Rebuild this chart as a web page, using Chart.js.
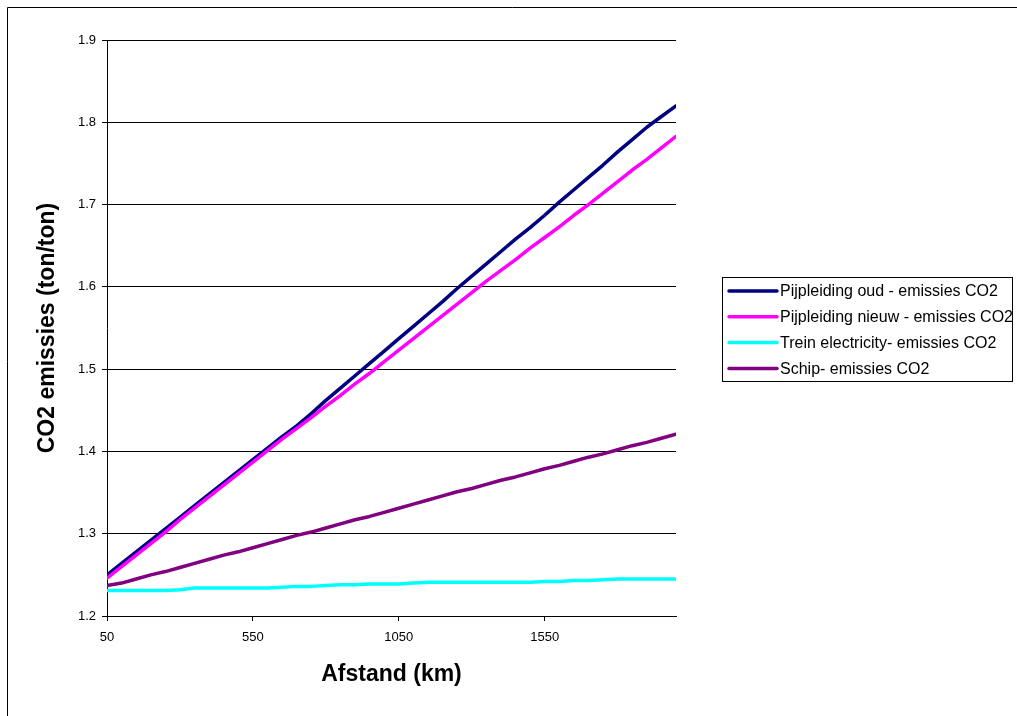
<!DOCTYPE html>
<html>
<head>
<meta charset="utf-8">
<title>CO2 emissies per afstand</title>
<script src="https://cdn.jsdelivr.net/npm/chart.js@4.4.1/dist/chart.umd.min.js"></script>
<style>
  html, body { margin: 0; padding: 0; background: #fff; }
  #wrap { width: 1017px; height: 716px; position: relative; }
</style>
</head>
<body>
<div id="wrap"><canvas id="c" width="1017" height="716"></canvas></div>
<script>
// Afstand in km
const distances = [50, 100, 150, 200, 250, 300, 350, 400, 450, 500,
  550, 600, 650, 700, 750, 800, 850, 900, 950, 1000,
  1050, 1100, 1150, 1200, 1250, 1300, 1350, 1400, 1450, 1500,
  1550, 1600, 1650, 1700, 1750, 1800, 1850, 1900, 1950, 2000];

const xTickLabels = [50, 550, 1050, 1550];
const yTicks = [1.2, 1.3, 1.4, 1.5, 1.6, 1.7, 1.8, 1.9];

const seriesNames = [
  'Pijpleiding oud - emissies CO2',
  'Pijpleiding nieuw - emissies CO2',
  'Trein electricity- emissies CO2',
  'Schip- emissies CO2'
];

// CO2 emissies (ton/ton)
const pijpOud = [1.250, 1.264, 1.278, 1.292, 1.306, 1.320, 1.334, 1.348, 1.362, 1.376,
  1.390, 1.404, 1.418, 1.431, 1.446, 1.462, 1.477, 1.492, 1.507, 1.522,
  1.537, 1.552, 1.567, 1.582, 1.598, 1.613, 1.628, 1.643, 1.658, 1.672,
  1.687, 1.703, 1.718, 1.733, 1.748, 1.764, 1.779, 1.794, 1.807, 1.820];

const pijpNieuw = [1.246, 1.260, 1.274, 1.288, 1.302, 1.317, 1.331, 1.345, 1.359, 1.373,
  1.387, 1.401, 1.415, 1.428, 1.441, 1.455, 1.468, 1.482, 1.495, 1.509,
  1.523, 1.537, 1.551, 1.565, 1.579, 1.593, 1.607, 1.620, 1.633, 1.647,
  1.660, 1.673, 1.687, 1.700, 1.714, 1.728, 1.742, 1.755, 1.769, 1.783];

const treinElec = [1.231, 1.231, 1.231, 1.231, 1.231, 1.232, 1.234, 1.234, 1.234, 1.234,
  1.234, 1.234, 1.235, 1.236, 1.236, 1.237, 1.238, 1.238, 1.239, 1.239,
  1.239, 1.240, 1.241, 1.241, 1.241, 1.241, 1.241, 1.241, 1.241, 1.241,
  1.242, 1.242, 1.243, 1.243, 1.244, 1.245, 1.245, 1.245, 1.245, 1.245];

const schip = [1.237, 1.240, 1.245, 1.250, 1.254, 1.259, 1.264, 1.269, 1.274, 1.278,
  1.283, 1.288, 1.293, 1.298, 1.302, 1.307, 1.312, 1.317, 1.321, 1.326,
  1.331, 1.336, 1.341, 1.346, 1.351, 1.355, 1.360, 1.365, 1.369, 1.374,
  1.379, 1.383, 1.388, 1.393, 1.397, 1.402, 1.407, 1.411, 1.416, 1.421];

const seriesValues = [pijpOud, pijpNieuw, treinElec, schip];
const seriesColors = ['#000080', '#FF00FF', '#00FFFF', '#800080'];

const FONT = "'Liberation Sans', Arial, sans-serif";

const datasets = seriesValues.map((vals, k) => ({
  label: seriesNames[k],
  data: vals.map((v, i) => ({ x: distances[i], y: v })),
  borderColor: seriesColors[k],
  backgroundColor: seriesColors[k],
  borderWidth: 3.5,
  pointRadius: 0,
  pointHoverRadius: 0,
  tension: 0,
  borderCapStyle: 'round',
  borderJoinStyle: 'round',
  // later series are painted over earlier ones
  order: seriesValues.length - k
}));

// Framed legend to the right of the plot
const boxedLegend = {
  id: 'boxedLegend',
  afterDraw(chart) {
    const ctx = chart.ctx;
    const left = 722, top = 277, width = 290, height = 104;
    ctx.save();
    ctx.strokeStyle = '#000';
    ctx.lineWidth = 1;
    ctx.strokeRect(left + 0.5, top + 0.5, width, height);
    ctx.font = '16px ' + FONT;
    ctx.textBaseline = 'middle';
    ctx.textAlign = 'left';
    chart.data.datasets.forEach((ds, i) => {
      const y = top + 14 + i * 25.8;
      ctx.strokeStyle = ds.borderColor;
      ctx.lineWidth = 3.5;
      ctx.lineCap = 'round';
      ctx.beginPath();
      ctx.moveTo(729, y);
      ctx.lineTo(777, y);
      ctx.stroke();
      ctx.fillStyle = '#000';
      ctx.fillText(ds.label, 780, y + 1);
    });
    ctx.restore();
  }
};

// Outer chart frame
const frame = {
  id: 'frame',
  beforeDraw(chart) {
    const ctx = chart.ctx;
    ctx.save();
    ctx.fillStyle = '#fff';
    ctx.fillRect(0, 0, chart.width, chart.height);
    ctx.strokeStyle = '#000';
    ctx.lineWidth = 1;
    ctx.beginPath();
    ctx.moveTo(7.5, chart.height);
    ctx.lineTo(7.5, 7.5);
    ctx.lineTo(chart.width, 7.5);
    ctx.stroke();
    ctx.restore();
  }
};

new Chart(document.getElementById('c'), {
  type: 'line',
  data: { datasets },
  options: {
    responsive: false,
    devicePixelRatio: 1,
    animation: false,
    layout: { padding: { left: 0, top: 40, right: 341, bottom: 0 } },
    plugins: {
      legend: { display: false },
      tooltip: { enabled: false }
    },
    scales: {
      x: {
        type: 'linear',
        min: distances[0],
        max: distances[distances.length - 1],
        afterBuildTicks(scale) {
          scale.ticks = xTickLabels.map(v => ({ value: v }));
        },
        afterFit(scale) { scale.height = 100; },
        grid: {
          drawOnChartArea: false,
          drawTicks: true,
          tickLength: 5,
          color: '#000',
          lineWidth: 1
        },
        border: { display: true, color: '#000', width: 1 },
        ticks: {
          autoSkip: false,
          maxRotation: 0,
          padding: 9,
          color: '#000',
          font: { family: FONT, size: 13 },
          callback: v => String(v)
        },
        title: {
          display: true,
          text: 'Afstand (km)',
          color: '#000',
          font: { family: FONT, size: 23, weight: 'bold' },
          padding: { top: 0, bottom: 28 }
        }
      },
      y: {
        type: 'linear',
        min: yTicks[0],
        max: yTicks[yTicks.length - 1],
        afterBuildTicks(scale) {
          scale.ticks = yTicks.map(v => ({ value: v }));
        },
        afterFit(scale) { scale.width = 107; },
        grid: {
          drawOnChartArea: true,
          drawTicks: true,
          tickLength: 5,
          color: '#000',
          lineWidth: 1
        },
        border: { display: true, color: '#000', width: 1 },
        ticks: {
          padding: 6,
          color: '#000',
          font: { family: FONT, size: 13 },
          callback: v => Number(v).toFixed(1)
        },
        title: {
          display: true,
          text: 'CO2 emissies (ton/ton)',
          color: '#000',
          font: { family: FONT, size: 23, weight: 'bold' },
          padding: { top: 34, bottom: 0 }
        }
      }
    }
  },
  plugins: [frame, boxedLegend]
});
</script>
</body>
</html>
